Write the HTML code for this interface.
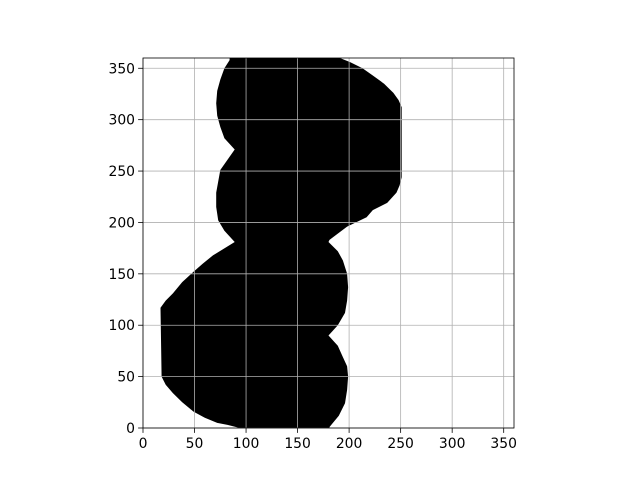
<!DOCTYPE html>
<html><head><meta charset="utf-8"><style>
html,body{margin:0;padding:0;background:#fff;}
svg text{font-family:"DejaVu Sans","Liberation Sans",sans-serif;font-size:13.9px;fill:#000;}
</style></head><body>
<svg id="chart" width="640" height="480" xmlns="http://www.w3.org/2000/svg"></svg>
<script>
const xTicks=[0,50,100,150,200,250,300,350];
const yTicks=[0,50,100,150,200,250,300,350];
const shapeX=[84,191,201,213,223,234,243,248,251,251,249,246,237,223,217,198,181,180,189,194,198,199,198,196,189,180,189,194,198,199,198,196,190,181,181,94,82,72,60,49,38,29,22,18,17,22,29,38,49,58,68,89,79,73,71,71,75,89,79,75,72,71,72,75,79,84];
const shapeY=[360,360,356,350,343,335,326,319,312,244,236,229,219,212,205,196,183,181,172,163,150,137,124,112,100,90,80,69,60,50,37,24,12,1,0,0,3,5,10,16,25,34,42,50,117,124,131,142,152,160,168,181,192,202,215,229,251,271,282,293,304,316,328,339,350,358];
const L=143,R=514,T=58,B=428,MAX=360;
const sx=v=>L+v/MAX*(R-L), sy=v=>B-v/MAX*(B-T);
const svg=document.getElementById('chart');
const NS='http://www.w3.org/2000/svg';
function mk(t,a){const e=document.createElementNS(NS,t);for(const k in a)e.setAttribute(k,a[k]);svg.appendChild(e);return e;}
const bg=mk('rect',{x:L,y:T,width:R-L,height:B-T,fill:'#fff'});


let pts=shapeX.map((x,i)=>sx(x).toFixed(1)+','+sy(shapeY[i]).toFixed(1)).join(' ');
const poly=mk('polygon',{points:pts,fill:'#000','stroke-linejoin':'round'});


xTicks.forEach(v=>{
  const g=mk('line',{x1:sx(v),x2:sx(v),y1:T,y2:B,stroke:'#b0b0b0','stroke-width':0.8});
  
  
  mk('line',{x1:sx(v),x2:sx(v),y1:B,y2:B+4.9,stroke:'#000','stroke-width':0.8});
  const t=mk('text',{x:sx(v),y:B+20,'text-anchor':'middle'});t.textContent=v;
  
  
});
yTicks.forEach(v=>{
  const g=mk('line',{x1:L,x2:R,y1:sy(v),y2:sy(v),stroke:'#b0b0b0','stroke-width':0.8});
  
  
  mk('line',{x1:L-4.9,x2:L,y1:sy(v),y2:sy(v),stroke:'#000','stroke-width':0.8});
  const t=mk('text',{x:L-8,y:sy(v)+5,'text-anchor':'end'});t.textContent=v;
  
  
});
const fr=mk('rect',{x:L,y:T,width:R-L,height:B-T,fill:'none',stroke:'#000','stroke-width':0.8});


</script>
</body></html>
